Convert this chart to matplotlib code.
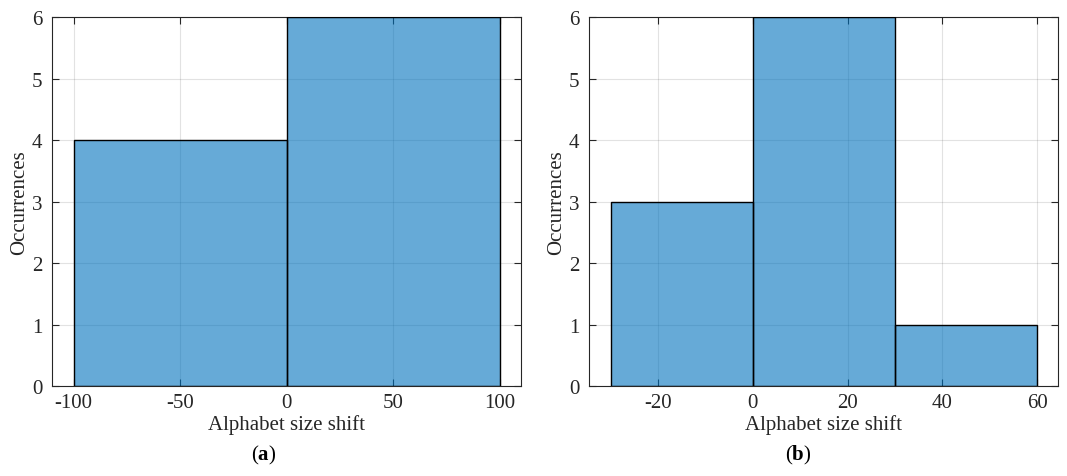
import matplotlib
matplotlib.use("Agg")
import matplotlib.pyplot as plt
import numpy as np

plt.rcParams['font.family'] = ['Liberation Serif', 'DejaVu Serif']
plt.rcParams['axes.unicode_minus'] = False
plt.rcParams['mathtext.fontset'] = 'custom'
plt.rcParams['mathtext.rm'] = 'Liberation Serif'
plt.rcParams['mathtext.bf'] = 'Liberation Serif:bold'

# histogram (a)
edges_a = [-100, 0, 100]
counts_a = [4, 6]
xticks_a = [-100, -50, 0, 50, 100]
xlim_a = (-110, 110)

# histogram (b)
edges_b = [-30, 0, 30, 60]
counts_b = [3, 6, 1]
xticks_b = [-20, 0, 20, 40, 60]
xlim_b = (-34.5, 64.5)

yticks = [0, 1, 2, 3, 4, 5, 6]
xlabel = "Alphabet size shift"
ylabel = "Occurrences"
captions = ["a", "b"]

face = (0.0, 0.447, 0.741)
axcol = (0.15, 0.15, 0.15)
fs = 15

fig = plt.figure(figsize=(10.67, 4.77), dpi=100)
ax_a = fig.add_axes([0.049, 0.188, 0.4396, 0.7736])
ax_b = fig.add_axes([0.5523, 0.188, 0.4396, 0.7736])


def draw_hist(ax, edges, counts, xticks, xlim):
    edges = np.array(edges)
    ax.set_axisbelow(True)
    ax.bar(edges[:-1], counts, width=np.diff(edges), align='edge',
           color=face, alpha=0.6, edgecolor='none', zorder=2)
    ax.bar(edges[:-1], counts, width=np.diff(edges), align='edge',
           facecolor='none', edgecolor='black', linewidth=1.0, zorder=3)
    ax.set_xlim(*xlim)
    ax.set_ylim(0, 6)
    ax.set_xticks(xticks)
    ax.set_yticks(yticks)
    ax.grid(True, color=(0.15, 0.15, 0.15), alpha=0.13, linewidth=0.8)
    for s in ax.spines.values():
        s.set_color(axcol)
        s.set_linewidth(0.8)
    ax.tick_params(direction='in', length=5, width=0.8, color=axcol,
                   top=True, right=True, labelsize=fs, labelcolor=axcol)
    ax.tick_params(axis='x', pad=5)
    ax.tick_params(axis='y', pad=7)
    ax.set_xlabel(xlabel, fontsize=fs, color=axcol, labelpad=1)
    ax.set_ylabel(ylabel, fontsize=fs, color=axcol, labelpad=2)


draw_hist(ax_a, edges_a, counts_a, xticks_a, xlim_a)
draw_hist(ax_b, edges_b, counts_b, xticks_b, xlim_b)

for xc, cap in zip([0.247, 0.748], captions):
    fig.text(xc, 0.045, r"($\mathbf{%s}$)" % cap, fontsize=fs,
             ha='center', va='center')

fig.savefig("out.png", dpi=100)
